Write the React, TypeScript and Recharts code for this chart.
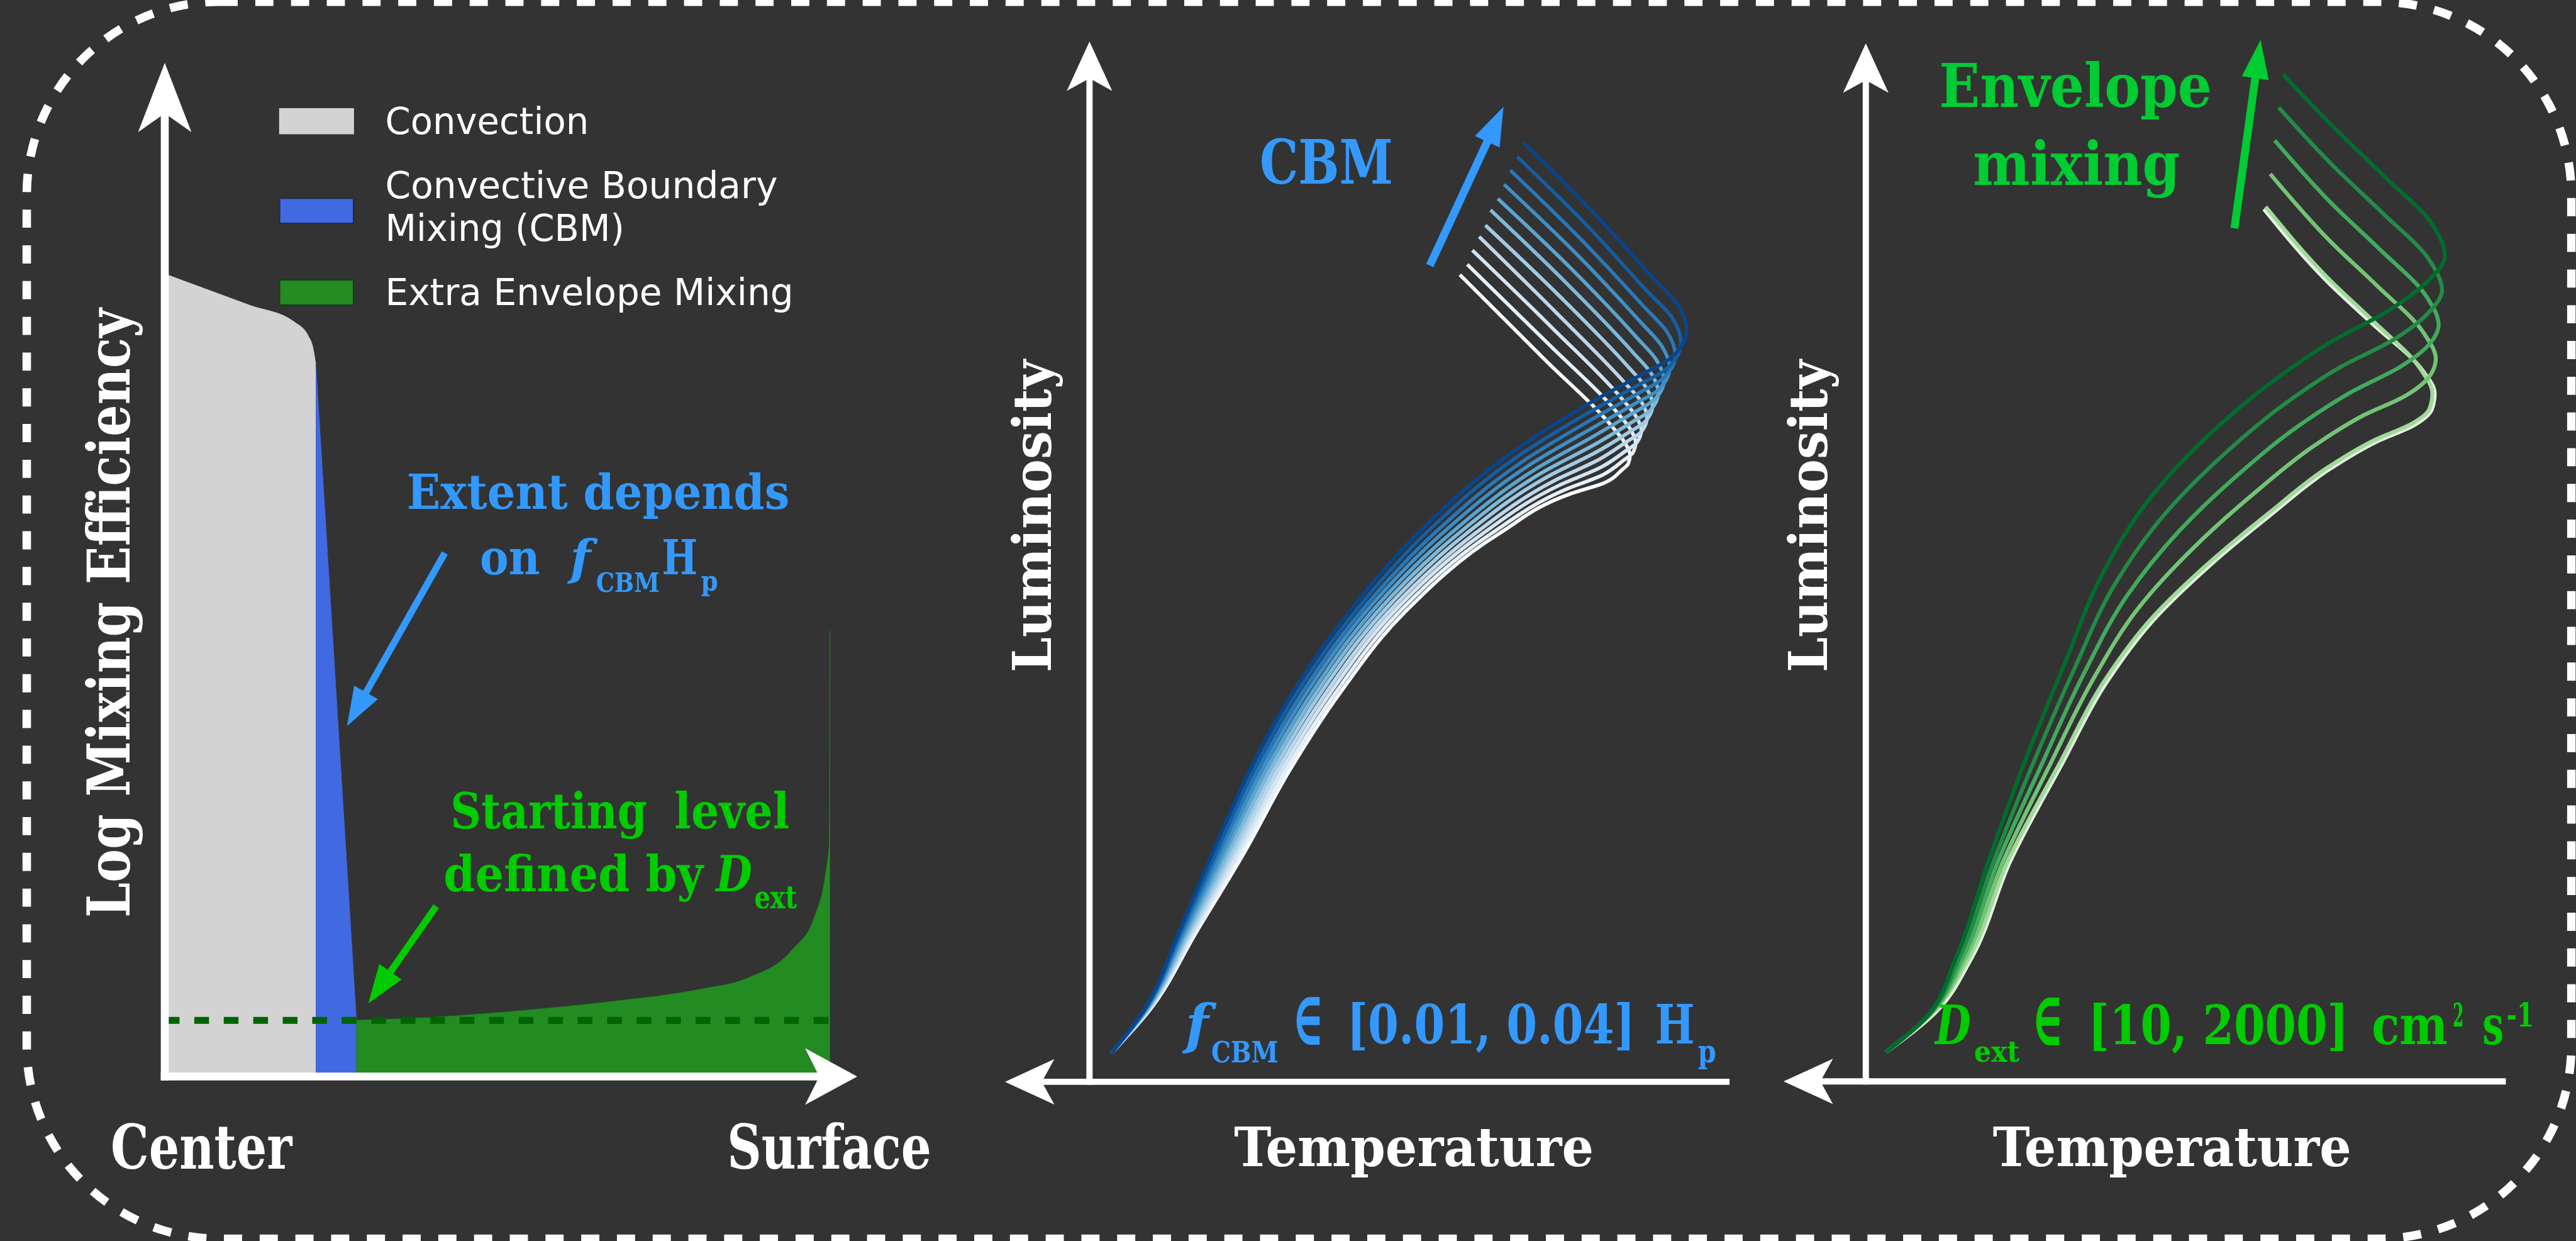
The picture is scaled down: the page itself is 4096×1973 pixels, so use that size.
import React from 'react';
import {
  ComposedChart,
  LineChart,
  Line,
  Area,
  XAxis,
  YAxis,
  ReferenceLine,
  Legend,
} from 'recharts';

// Everything is laid out in the 4542 x 2188 drawing units of the original figure
// and scaled down to the 4096 px wide page.
const S = 4096 / 4542;
const px = (v: number) => v * S;
const M = 60; // screen px of slack around each plot so arrowheads are not clipped

// ---- left panel: mixing profile, fractional radius vs log D ----
const radius = [0, 0.06, 0.127, 0.195, 0.216, 0.2225, 0.227, 0.288, 0.399, 0.535, 0.671, 0.806, 0.875, 0.943, 0.977, 0.994, 0.999, 1.0];
const convectionLogD = [14.15, 13.89, 13.6, 13.3, 13.05, 12.86, 12.55, null, null, null, null, null, null, null, null, null, null, null];
const cbmLogD = [null, null, null, null, null, null, 12.55, 0.99, null, null, null, null, null, null, null, null, null, null];
const envelopeLogD = [null, null, null, null, null, null, null, 0.99, 1.04, 1.16, 1.32, 1.54, 1.73, 2.23, 2.82, 3.61, 4.11, 7.86];
const dExtLogD = 0.99;

// ---- middle panel: HR tracks for f_CBM = 0.010 ... 0.040 (x: temperature axis units, y: luminosity units) ----
const fCbm010 = [[3.9, 5.1], [10.5, 12.5], [18.9, 26.5], [27.4, 40.6], [35.1, 54.6], [44.2, 68.6], [55.4, 82.6], [72.3, 96.7], [84.9, 103.7], [90.8, 105.6], [93.9, 107.9], [95.0, 109.0], [95.3, 110.5], [94.5, 112.5], [92.5, 115.1], [80.0, 127.6], [65.3, 142.3]];
const fCbm013 = [[3.9, 5.1], [10.4, 12.5], [18.6, 26.5], [26.8, 40.6], [34.4, 54.6], [43.4, 68.6], [54.4, 82.6], [70.9, 96.7], [83.9, 104.4], [90.5, 107.0], [94.2, 109.6], [95.8, 110.9], [96.3, 112.7], [95.4, 115.0], [93.2, 117.8], [80.8, 130.2], [66.6, 144.1]];
const fCbm016 = [[3.9, 5.1], [10.3, 12.5], [18.3, 26.5], [26.3, 40.6], [33.7, 54.6], [42.5, 68.6], [53.4, 82.6], [69.4, 96.7], [82.9, 105.2], [90.3, 108.4], [94.5, 111.2], [96.5, 112.7], [97.3, 114.9], [96.3, 117.4], [93.8, 120.5], [81.6, 132.9], [67.5, 146.6]];
const fCbm019 = [[3.9, 5.1], [10.2, 12.5], [18.0, 26.5], [25.7, 40.6], [33.0, 54.6], [41.7, 68.6], [52.5, 82.6], [68.0, 96.7], [81.8, 105.9], [90.0, 109.8], [94.8, 112.9], [97.3, 114.6], [98.3, 117.1], [97.3, 119.9], [94.5, 123.1], [82.4, 135.5], [68.7, 149.0]];
const fCbm022 = [[3.9, 5.1], [10.1, 12.5], [17.7, 26.5], [25.2, 40.6], [32.3, 54.6], [40.8, 68.6], [51.5, 82.6], [66.5, 96.7], [80.8, 106.7], [89.7, 111.2], [95.1, 114.5], [98.0, 116.4], [99.3, 119.3], [98.2, 122.3], [95.2, 125.8], [83.2, 138.2], [69.8, 151.0]];
const fCbm025 = [[3.9, 5.1], [10.0, 12.5], [17.4, 26.5], [24.6, 40.6], [31.6, 54.6], [40.0, 68.6], [50.5, 82.6], [65.1, 96.7], [79.8, 107.4], [89.5, 112.6], [95.5, 116.2], [98.8, 118.3], [100.3, 121.5], [99.1, 124.8], [95.9, 128.5], [84.1, 140.8], [70.7, 153.7]];
const fCbm028 = [[3.9, 5.1], [9.9, 12.5], [17.0, 26.5], [24.0, 40.6], [30.9, 54.6], [39.2, 68.6], [49.5, 82.6], [63.7, 96.7], [78.8, 108.1], [89.2, 114.0], [95.8, 117.9], [99.5, 120.2], [101.3, 123.7], [100.0, 127.2], [96.5, 131.2], [84.9, 143.4], [72.0, 155.7]];
const fCbm031 = [[3.9, 5.1], [9.8, 12.5], [16.7, 26.5], [23.5, 40.6], [30.2, 54.6], [38.3, 68.6], [48.5, 82.6], [62.2, 96.7], [77.8, 108.9], [88.9, 115.4], [96.1, 119.5], [100.3, 122.0], [102.3, 125.9], [100.9, 129.7], [97.2, 133.9], [85.7, 146.1], [73.1, 158.2]];
const fCbm034 = [[3.9, 5.1], [9.7, 12.5], [16.4, 26.5], [22.9, 40.6], [29.5, 54.6], [37.5, 68.6], [47.6, 82.6], [60.8, 96.7], [76.7, 109.6], [88.6, 116.8], [96.4, 121.2], [101.0, 123.9], [103.3, 128.1], [101.9, 132.1], [97.9, 136.5], [86.5, 148.7], [74.2, 160.7]];
const fCbm037 = [[3.9, 5.1], [9.6, 12.5], [16.1, 26.5], [22.4, 40.6], [28.8, 54.6], [36.6, 68.6], [46.6, 82.6], [59.3, 96.7], [75.7, 110.4], [88.4, 118.2], [96.7, 122.8], [101.8, 125.7], [104.3, 130.3], [102.8, 134.6], [98.5, 139.2], [87.3, 151.4], [75.4, 163.1]];
const fCbm040 = [[3.9, 5.1], [9.5, 12.5], [15.8, 26.5], [21.8, 40.6], [28.1, 54.6], [35.8, 68.6], [45.6, 82.6], [57.9, 96.7], [74.7, 111.1], [88.1, 119.6], [97.0, 124.5], [102.5, 127.6], [105.3, 132.5], [103.7, 137.0], [99.2, 141.9], [88.1, 154.0], [76.5, 165.6]];
const cbmTracks = [fCbm010, fCbm013, fCbm016, fCbm019, fCbm022, fCbm025, fCbm028, fCbm031, fCbm034, fCbm037, fCbm040];
const blues = ['#f7fbff', '#e6f0f9', '#d3e4f3', '#bdd7ec', '#a0cbe2', '#7db9da', '#5ba3d0', '#3f8fc6', '#2878b9', '#135ea5', '#08468c'];

// ---- right panel: HR tracks for D_ext = 10 ... 2000 cm^2/s ----
const dExt10 = [[3.6, 5.2], [12.5, 12.4], [18.6, 21.7], [25.5, 38.9], [34.7, 56.2], [42.4, 70.3], [50.4, 81.0], [60.9, 91.2], [71.5, 100.0], [82.0, 108.1], [90.3, 112.9], [96.5, 115.6], [99.8, 118.5], [100.3, 121.3], [98.1, 125.4], [89.1, 133.8], [81.4, 141.0], [70.2, 153.8]];
const dExt20 = [[3.6, 5.2], [12.2, 12.6], [18.2, 21.8], [25.1, 39.0], [34.3, 56.3], [42.0, 70.5], [50.1, 81.3], [60.6, 91.5], [71.2, 100.3], [81.7, 108.4], [90.0, 113.2], [96.2, 115.9], [99.4, 118.6], [99.9, 121.3], [97.8, 125.6], [89.3, 134.2], [81.7, 141.4], [70.5, 154.2]];
const dExt100 = [[3.6, 5.2], [11.9, 12.3], [17.6, 21.8], [24.3, 39.0], [32.7, 56.3], [40.3, 71.3], [48.1, 83.5], [58.0, 94.3], [68.6, 103.8], [79.1, 112.1], [87.9, 117.5], [95.2, 120.9], [99.3, 124.2], [100.5, 127.4], [98.4, 131.9], [89.9, 140.5], [81.9, 148.1], [71.3, 160.0]];
const dExt500 = [[3.6, 5.2], [11.5, 12.1], [17.1, 21.8], [23.4, 39.0], [31.2, 56.3], [38.5, 72.0], [46.1, 85.7], [55.4, 97.2], [65.9, 107.2], [76.5, 115.7], [85.9, 121.7], [94.1, 125.9], [99.2, 129.8], [101.0, 133.4], [98.9, 138.3], [90.4, 146.9], [82.1, 154.8], [72.1, 165.9]];
const dExt1000 = [[3.6, 5.2], [11.2, 11.8], [16.5, 21.8], [22.6, 39.0], [29.6, 56.3], [36.8, 72.8], [44.0, 87.8], [52.7, 100.0], [63.3, 110.7], [73.8, 119.4], [83.8, 126.0], [93.1, 130.8], [99.1, 135.4], [101.6, 139.5], [99.5, 144.6], [91.0, 153.2], [82.3, 161.5], [72.8, 171.7]];
const dExt2000 = [[3.6, 5.2], [10.8, 11.5], [15.9, 21.8], [21.7, 39.0], [28.0, 56.3], [35.0, 73.5], [42.0, 90.0], [50.1, 102.8], [60.6, 114.1], [71.2, 123.0], [81.7, 130.2], [92.0, 135.8], [99.0, 141.0], [102.1, 145.5], [100.0, 150.9], [91.5, 159.5], [82.5, 168.2], [73.6, 177.5]];
const dExtTracks = [dExt10, dExt20, dExt100, dExt500, dExt1000, dExt2000];
const greens = ['#e5f5e0', '#a1d99b', '#74c476', '#41ab5d', '#238b45', '#006d2c'];

const BLUE = '#3399ff';
const GREEN = '#00cc00';
const GREEN_BRIGHT = '#00cc33';
const BG = '#333333';

const mixingProfile = radius.map((r, i) => ({
  r,
  convection: convectionLogD[i],
  cbm: cbmLogD[i],
  envelope: envelopeLogD[i],
}));
const toPoints = (pairs: number[][]) => pairs.map(([x, y]) => ({ x, y }));

// axis boxes in drawing units: left/right/top/bottom of the arrowed axes
type Frame = { left: number; right: number; top: number; bottom: number };
const mixFrame: Frame = { left: 290, right: 1511, top: 111, bottom: 1898 };
const cbmFrame: Frame = { left: 1772, right: 3044, top: 73, bottom: 1907 };
const extFrame: Frame = { left: 3145, right: 4413, top: 77, bottom: 1907 };

const boxStyle = (f: Frame): React.CSSProperties => ({
  position: 'absolute',
  left: px(f.left) - M,
  top: px(f.top) - M,
});
const boxW = (f: Frame) => px(f.right - f.left) + 2 * M;
const boxH = (f: Frame) => px(f.bottom - f.top) + 2 * M;
const MARGIN = { top: M, right: M, bottom: M, left: M };

type Head = { len: number; half: number; notch: number; width: number; color: string; cap: 'square' | 'butt' };
const bigYHead: Head = { len: 122, half: 47, notch: 33, width: 14, color: '#ffffff', cap: 'square' };
const bigXHead: Head = { len: 92, half: 50, notch: 25, width: 14, color: '#ffffff', cap: 'square' };
const axisHead: Head = { len: 87, half: 40, notch: 22, width: 11, color: '#ffffff', cap: 'square' };
const pointer = (color: string, width = 13): Head => ({ len: 68, half: 24, notch: 0, width, color, cap: 'butt' });

// line with an arrowhead at its second end point
const arrowShape = (h: Head) => (p: any) => {
  const { x1, y1, x2, y2 } = p;
  const dx = x2 - x1;
  const dy = y2 - y1;
  const d = Math.hypot(dx, dy) || 1;
  const ux = dx / d;
  const uy = dy / d;
  const nx = -uy;
  const ny = ux;
  const len = px(h.len);
  const half = px(h.half);
  const back = px(h.len - h.notch);
  const bx = x2 - ux * len;
  const by = y2 - uy * len;
  const pts = [
    [x2, y2],
    [bx + nx * half, by + ny * half],
    [x2 - ux * back, y2 - uy * back],
    [bx - nx * half, by - ny * half],
  ];
  const stop = h.notch > 0 ? back : len - 2;
  return (
    <g>
      <line
        x1={x1}
        y1={y1}
        x2={x2 - ux * stop}
        y2={y2 - uy * stop}
        stroke={h.color}
        strokeWidth={px(h.width)}
        strokeLinecap={h.cap}
      />
      <polygon points={pts.map((q) => q.join(',')).join(' ')} fill={h.color} />
    </g>
  );
};

// legend rows in drawing units
const legendRows: Record<string, { patch: number; lines: string[]; base: number[]; len: number[]; edge: string }> = {
  convection: { patch: 192, lines: ['Convection'], base: [237], len: [359], edge: '#d3d3d3' },
  cbm: { patch: 350, lines: ['Convective Boundary', 'Mixing (CBM)'], base: [350, 425], len: [692, 422], edge: '#1f2a44' },
  envelope: { patch: 494, lines: ['Extra Envelope Mixing'], base: [538], len: [720], edge: '#173d17' },
};

const renderMixingLegend = (props: any) => {
  const items = props.payload ?? [];
  return (
    <svg width={px(980)} height={px(420)} viewBox="480 160 980 420">
      {items.map((item: any) => {
        const row = legendRows[item.dataKey];
        if (!row) return null;
        return (
          <g key={item.dataKey}>
            <rect x={493} y={row.patch} width={130} height={44} fill={item.color} stroke={row.edge} strokeWidth={2} />
            {row.lines.map((line, i) => (
              <text
                key={line}
                x={679}
                y={row.base[i]}
                fontSize={65}
                fill="#ffffff"
                fontFamily="'DejaVu Sans', sans-serif"
                textLength={row.len[i]}
                lengthAdjust="spacingAndGlyphs"
              >
                {line}
              </text>
            ))}
          </g>
        );
      })}
    </svg>
  );
};

const SERIF = "'DejaVu Serif', 'Liberation Serif', serif";

type LabelProps = {
  x?: number;
  y?: number;
  size: number;
  fill?: string;
  len?: number;
  italic?: boolean;
  transform?: string;
  anchor?: 'start' | 'middle' | 'end';
  children: React.ReactNode;
};
const Label = ({ x = 0, y = 0, size, fill = '#ffffff', len, italic, transform, anchor, children }: LabelProps) => (
  <text
    x={x}
    y={y}
    fontSize={size}
    fill={fill}
    fontFamily={SERIF}
    fontWeight="bold"
    fontStyle={italic ? 'italic' : 'normal'}
    textLength={len}
    lengthAdjust={len ? 'spacingAndGlyphs' : undefined}
    textAnchor={anchor}
    transform={transform}
  >
    {children}
  </text>
);

const MixingPanel = () => (
  <div style={boxStyle(mixFrame)}>
    <ComposedChart width={boxW(mixFrame)} height={boxH(mixFrame)} data={mixingProfile} margin={MARGIN}>
      <XAxis type="number" dataKey="r" domain={[0, 1.041]} hide allowDataOverflow />
      <YAxis type="number" domain={[0, 17.87]} hide allowDataOverflow />
      <Legend
        layout="vertical"
        align="center"
        verticalAlign="middle"
        content={renderMixingLegend}
        wrapperStyle={{
          position: 'absolute',
          left: px(480 - mixFrame.left) + M,
          top: px(160 - mixFrame.top) + M,
          width: px(980),
          height: px(420),
        }}
      />
      <Area dataKey="convection" name="Convection" type="monotone" fill="#d3d3d3" stroke="#d3d3d3" strokeWidth={1} fillOpacity={1} isAnimationActive={false} />
      <Area dataKey="cbm" name="Convective Boundary Mixing (CBM)" type="linear" fill="#4169e1" stroke="#4169e1" strokeWidth={1} fillOpacity={1} isAnimationActive={false} />
      <Area dataKey="envelope" name="Extra Envelope Mixing" type="monotone" fill="#228b22" stroke="#228b22" strokeWidth={1} fillOpacity={1} isAnimationActive={false} />
      <ReferenceLine
        segment={[{ x: 0, y: dExtLogD }, { x: 1, y: dExtLogD }]}
        stroke="#006400"
        strokeWidth={px(12)}
        strokeDasharray={`${px(26)} ${px(26)}`}
        ifOverflow="visible"
      />
      <ReferenceLine segment={[{ x: 0.421, y: 9.23 }, { x: 0.274, y: 6.18 }]} shape={arrowShape(pointer(BLUE, 12))} ifOverflow="visible" />
      <ReferenceLine segment={[{ x: 0.408, y: 3.0 }, { x: 0.306, y: 1.29 }]} shape={arrowShape(pointer(GREEN, 12))} ifOverflow="visible" />
      <ReferenceLine segment={[{ x: 0, y: 0 }, { x: 0, y: 17.87 }]} shape={arrowShape(bigYHead)} ifOverflow="visible" />
      <ReferenceLine segment={[{ x: 0, y: 0 }, { x: 1.041, y: 0 }]} shape={arrowShape(bigXHead)} ifOverflow="visible" />
    </ComposedChart>
  </div>
);

const TrackPanel = ({
  frame,
  xDomain,
  yTop,
  tracks,
  colors,
  width,
  arrow,
  arrowColor,
  xMin,
}: {
  frame: Frame;
  xDomain: [number, number];
  yTop: number;
  tracks: number[][][];
  colors: string[];
  width: number;
  arrow: { x: number; y: number }[];
  arrowColor: string;
  xMin: number;
}) => (
  <div style={boxStyle(frame)}>
    <LineChart width={boxW(frame)} height={boxH(frame)} margin={MARGIN}>
      <XAxis type="number" dataKey="x" domain={xDomain} hide allowDataOverflow />
      <YAxis type="number" dataKey="y" domain={[0, yTop]} hide allowDataOverflow />
      {tracks.map((t, i) => (
        <Line
          key={i}
          data={toPoints(t)}
          dataKey="y"
          type="monotoneY"
          stroke={colors[i]}
          strokeWidth={px(width)}
          dot={false}
          activeDot={false}
          isAnimationActive={false}
        />
      ))}
      <ReferenceLine segment={arrow} shape={arrowShape(pointer(arrowColor, 14))} ifOverflow="visible" />
      <ReferenceLine segment={[{ x: 0, y: 0 }, { x: 0, y: yTop }]} shape={arrowShape(axisHead)} ifOverflow="visible" />
      <ReferenceLine segment={[{ x: xDomain[1], y: 0 }, { x: xMin, y: 0 }]} shape={arrowShape(axisHead)} ifOverflow="visible" />
    </LineChart>
  </div>
);

const Overlay = () => (
  <svg
    width={4096}
    height={1973}
    viewBox="0 0 4542 2188"
    style={{ position: 'absolute', left: 0, top: 0, pointerEvents: 'none' }}
  >
    <rect x={47} y={3} width={4487} height={2181} rx={340} ry={340} fill="none" stroke="#ffffff" strokeWidth={15} strokeDasharray="32 31" />

    {/* left panel */}
    <Label transform="translate(228 1081) rotate(-90)" anchor="middle" size={104} len={1074}>Log Mixing Efficiency</Label>
    <Label x={195} y={2060} size={108} len={320}>Center</Label>
    <Label x={1282} y={2060} size={108} len={360}>Surface</Label>
    <Label x={717} y={897} size={85} len={675} fill={BLUE}>Extent depends</Label>
    <Label x={846} y={1013} size={85} len={106} fill={BLUE}>on</Label>
    <Label x={1005} y={1013} size={85} fill={BLUE} italic>f</Label>
    <Label x={1051} y={1043} size={48} len={112} fill={BLUE}>CBM</Label>
    <Label x={1167} y={1013} size={85} len={63} fill={BLUE}>H</Label>
    <Label x={1236} y={1041} size={50} len={30} fill={BLUE}>p</Label>
    <Label x={794} y={1460} size={88} len={347} fill={GREEN}>Starting</Label>
    <Label x={1189} y={1460} size={88} len={203} fill={GREEN}>level</Label>
    <Label x={782} y={1571} size={88} len={458} fill={GREEN}>defined by</Label>
    <Label x={1262} y={1571} size={88} len={64} fill={GREEN} italic>D</Label>
    <Label x={1330} y={1601} size={55} len={75} fill={GREEN}>ext</Label>

    {/* middle panel */}
    <Label x={2221} y={324} size={107} len={235} fill={BLUE}>CBM</Label>
    <Label x={2090} y={1840} size={96} fill={BLUE} italic>f</Label>
    <Label x={2136} y={1873} size={51} len={118} fill={BLUE}>CBM</Label>
    <Label x={2278} y={1842} size={135} len={57} fill={BLUE}>∈</Label>
    <Label x={2375} y={1840} size={96} len={508} fill={BLUE}>[0.01, 0.04]</Label>
    <Label x={2918} y={1840} size={96} len={70} fill={BLUE}>H</Label>
    <Label x={2994} y={1873} size={55} len={32} fill={BLUE}>p</Label>
    <Label x={2176} y={2056} size={96} len={634}>Temperature</Label>
    <Label transform="translate(1853 910) rotate(-90)" anchor="middle" size={94} len={551}>Luminosity</Label>

    {/* right panel */}
    <Label x={3419} y={188} size={106} len={481} fill={GREEN_BRIGHT}>Envelope</Label>
    <Label x={3479} y={326} size={106} len={365} fill={GREEN_BRIGHT}>mixing</Label>
    <Label x={3412} y={1841} size={95} len={63} fill={GREEN} italic>D</Label>
    <Label x={3481} y={1872} size={52} len={80} fill={GREEN}>ext</Label>
    <Label x={3582} y={1843} size={135} len={57} fill={GREEN}>∈</Label>
    <Label x={3682} y={1841} size={95} len={459} fill={GREEN}>[10, 2000]</Label>
    <Label x={4182} y={1841} size={95} len={134} fill={GREEN}>cm</Label>
    <Label x={4325} y={1810} size={58} len={19} fill={GREEN}>2</Label>
    <Label x={4377} y={1841} size={95} len={38} fill={GREEN}>s</Label>
    <Label x={4420} y={1810} size={58} len={48} fill={GREEN}>-1</Label>
    <Label x={3514} y={2056} size={96} len={632}>Temperature</Label>
    <Label transform="translate(3221 910) rotate(-90)" anchor="middle" size={94} len={551}>Luminosity</Label>
  </svg>
);

export default function App() {
  return (
    <div
      style={{
        position: 'absolute',
        left: 0,
        top: 0,
        width: 4096,
        height: 1973,
        background: BG,
        overflow: 'hidden',
      }}
    >
      <MixingPanel />
      <TrackPanel
        frame={cbmFrame}
        xDomain={[-14.9, 112.3]}
        yTop={183.4}
        tracks={cbmTracks}
        colors={blues}
        width={6.3}
        arrow={[{ x: 60.0, y: 143.9 }, { x: 73.0, y: 171.9 }]}
        arrowColor={BLUE}
        xMin={-14.9}
      />
      <TrackPanel
        frame={extFrame}
        xDomain={[-14.5, 112.3]}
        yTop={183.0}
        tracks={dExtTracks}
        colors={greens}
        width={7}
        arrow={[{ x: 65.0, y: 150.4 }, { x: 69.6, y: 183.6 }]}
        arrowColor={GREEN_BRIGHT}
        xMin={-14.5}
      />
      <Overlay />
    </div>
  );
}
